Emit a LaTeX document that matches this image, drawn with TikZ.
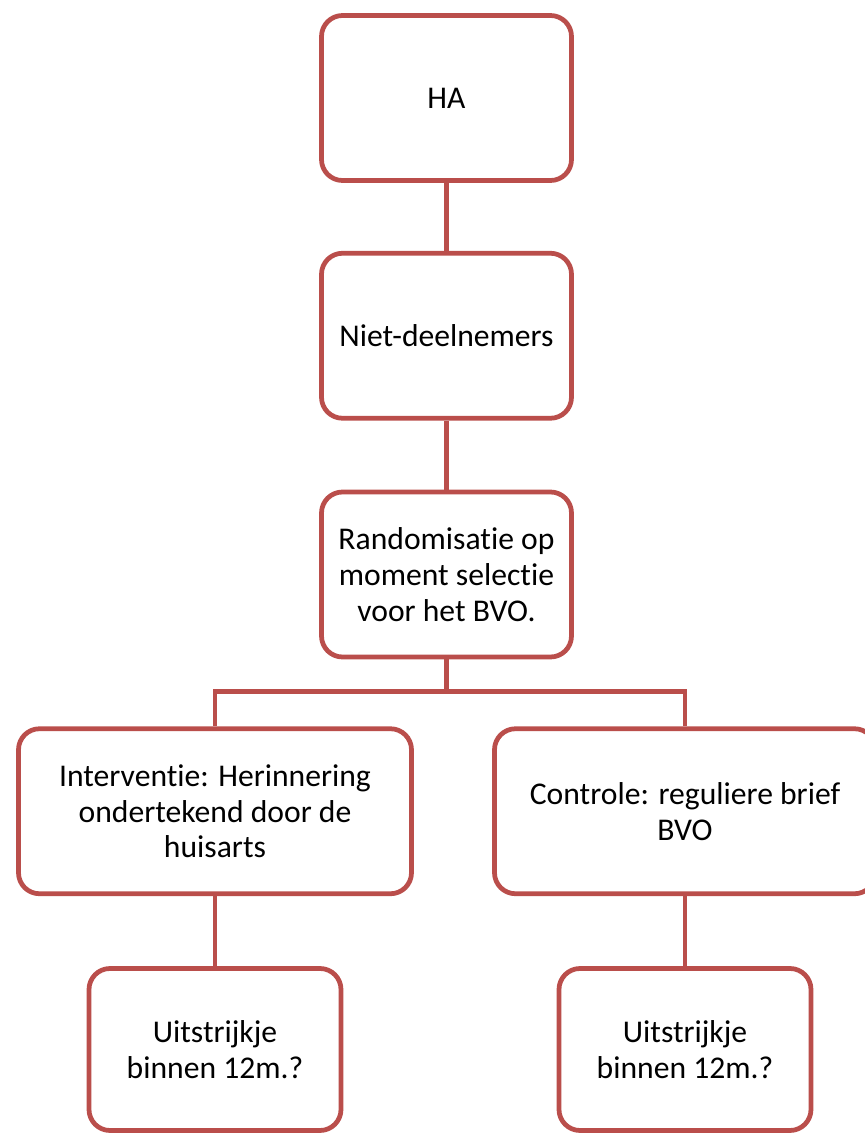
\documentclass[tikz,border=0pt]{standalone}
\usepackage{fontspec}
\setmainfont[Ligatures={NoCommon,NoContextual}]{Carlito}
\usetikzlibrary{positioning}
\definecolor{boxred}{RGB}{186,78,75}
\tikzset{
  stepbox/.style={draw=boxred, line width=2.7pt, rounded corners=0.42cm, fill=white,
    align=center, font=\fontsize{18}{20.4}\selectfont, minimum height=3.3cm},
  link/.style={draw=boxred, line width=2.7pt}
}
\begin{document}
\begin{tikzpicture}
  \clip (0,0) rectangle (17.3,-22.68);
  \useasboundingbox (0,0) rectangle (17.3,-22.68);
  \node [stepbox, minimum width=5cm] (ha) at (8.93,-1.96) {HA};
  \node [stepbox, minimum width=5cm, below=1.36cm of ha] (niet) {Niet-deelnemers};
  \node [stepbox, minimum width=5cm, below=1.38cm of niet] (rand) {Randomisatie op\\ moment selectie\\ voor het BVO.};
  \node [stepbox, minimum width=7.86cm, below=1.34cm of rand, xshift=-4.63cm] (interv) {Interventie: Herinnering\\ ondertekend door de\\ huisarts};
  \node [stepbox, minimum width=7.62cm, below=1.34cm of rand, xshift=4.77cm] (ctrl) {Controle: reguliere brief\\ BVO};
  \node [stepbox, minimum width=5.04cm, minimum height=3.24cm, below=1.4cm of interv] (uitl) {Uitstrijkje\\ binnen 12m.?};
  \node [stepbox, minimum width=5.04cm, minimum height=3.24cm, below=1.4cm of ctrl] (uitr) {Uitstrijkje\\ binnen 12m.?};
  \coordinate [below=0.64cm of rand] (split);
  \draw [link] (ha) -- (niet);
  \draw [link] (niet) -- (rand);
  \draw [link] (rand) -- (split);
  \draw [link] (split) -| (interv);
  \draw [link] (split) -| (ctrl);
  \draw [link] (interv) -- (uitl);
  \draw [link] (ctrl) -- (uitr);
\end{tikzpicture}
\end{document}
